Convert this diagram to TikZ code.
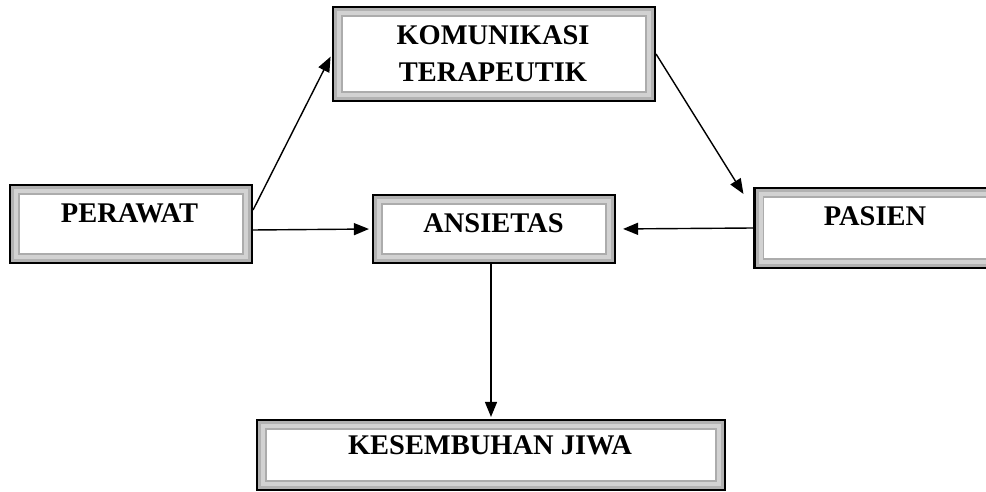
\documentclass[tikz,border=0pt]{standalone}
\usepackage{fontspec}
\setmainfont{Liberation Serif}
\usepackage{tikz}
\usetikzlibrary{arrows.meta,positioning}

\begin{document}
\begin{tikzpicture}[x=0.2mm,y=-0.2mm,
  lbl/.style={font=\fontsize{16.2}{21}\selectfont\bfseries,align=center,inner sep=0pt},
  bevel/.style={draw=black,line width=1.2pt,fill=white,inner sep=0pt,
    path picture={
      \draw[gray!65,line width=3.9mm] (path picture bounding box.south west) rectangle (path picture bounding box.north east);
      \draw[gray!35,line width=3.3mm] (path picture bounding box.south west) rectangle (path picture bounding box.north east);
      \draw[gray!60,line width=1.6mm] (path picture bounding box.south west) rectangle (path picture bounding box.north east);}},
  ar/.style={-{Triangle[length=3mm,width=2.4mm]},line width=0.8pt,draw=black}]
\useasboundingbox (0,0) rectangle (986,492);
% boxes
\node[bevel,minimum width=48.4mm,minimum height=15.6mm] (perawat) at (131,224) {};
\node[bevel,minimum width=64.4mm,minimum height=18.8mm] (komunikasi) at (494,54) {};
\node[bevel,minimum width=48.4mm,minimum height=13.6mm] (ansietas) at (494,229) {};
\node[bevel,minimum width=49mm,minimum height=16mm] (pasien) at (877,228) {};
\node[bevel,minimum width=93.6mm,minimum height=14mm] (kesembuhan) at (491,455) {};
% texts
\node[lbl] (tperawat) at (129.5,213) {PERAWAT};
\node[lbl] (tkomunikasi) at (493,54) {KOMUNIKASI\\TERAPEUTIK};
\node[lbl] (tansietas) at (493.5,223) {ANSIETAS};
\node[lbl] (tpasien) at (875,216.5) {PASIEN};
\node[lbl] (tkesembuhan) at (490,445) {KESEMBUHAN JIWA};
% arrows
\draw[ar,shorten >=0.6mm] ([yshift=2.8mm]perawat.east) -- (komunikasi.west);
\draw[ar,shorten >=0.6mm] ([yshift=-1.2mm]perawat.east) -- (ansietas.west);
\draw[ar] (komunikasi.east) -- ([xshift=-2mm,yshift=-1.4mm]pasien.north west);
\draw[ar,shorten >=1.4mm] (pasien.west) -- (ansietas.east);
\draw[ar,shorten >=0.4mm] ([xshift=-0.6mm]ansietas.south) -- ([xshift=-0.6mm]ansietas.south |- kesembuhan.north);
\end{tikzpicture}
\end{document}
